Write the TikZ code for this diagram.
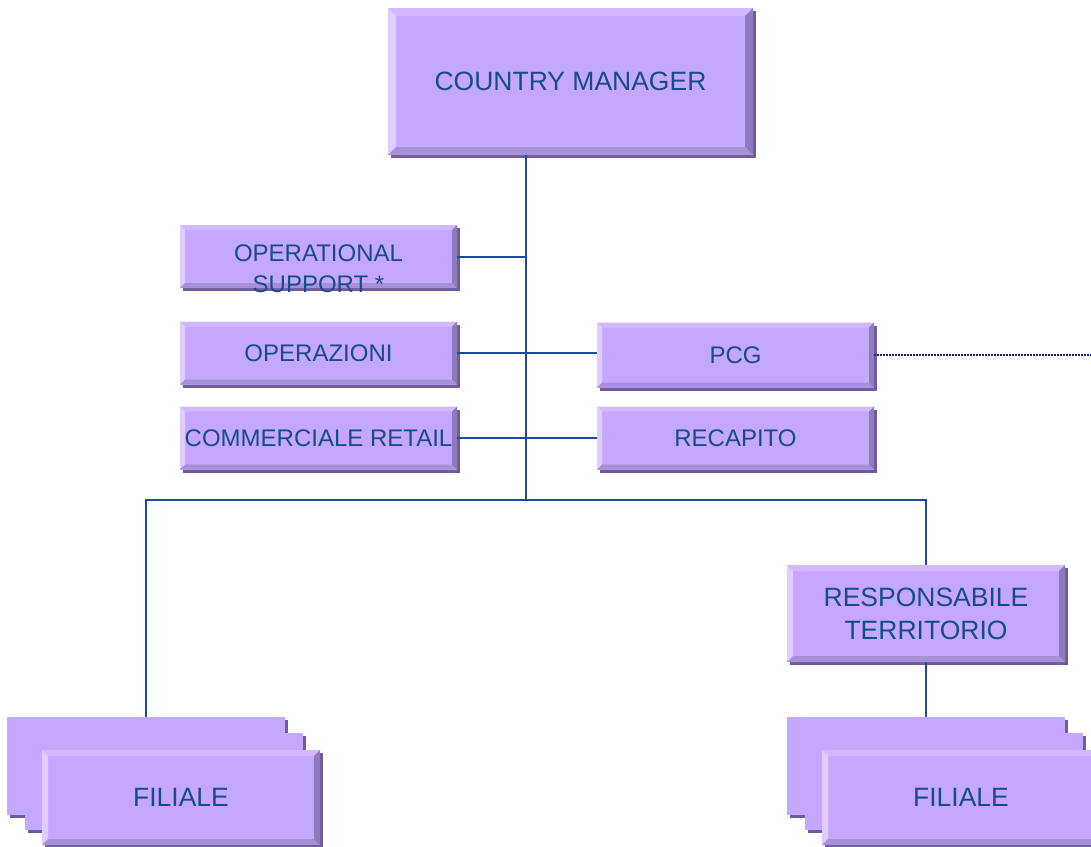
\documentclass[tikz,border=0pt]{standalone}
\usepackage{fontspec}
\setmainfont{Liberation Sans}
\usetikzlibrary{shadows}

\definecolor{face}{HTML}{C4A8FF}
\definecolor{bevtop}{HTML}{D4B8FF}
\definecolor{bevleft}{HTML}{E2CCFF}
\definecolor{bevbot}{HTML}{A890D8}
\definecolor{bevright}{HTML}{8C7CB8}
\definecolor{shadowc}{HTML}{705C9C}
\definecolor{textc}{HTML}{1B4A8C}
\definecolor{linec}{HTML}{1F4A9A}
\definecolor{dotc}{HTML}{1A1A8A}

\newcommand{\bigtxt}{\fontsize{26.5}{33}\selectfont}
\newcommand{\smalltxt}{\fontsize{24}{31}\selectfont}
\newcommand{\bevelpic}{%
  \coordinate (bsw) at (path picture bounding box.south west);
  \coordinate (bne) at (path picture bounding box.north east);
  \coordinate (bnw) at (path picture bounding box.north west);
  \coordinate (bse) at (path picture bounding box.south east);
  \fill[bevtop] (bnw) -- (bne) -- ([shift={(-\bevw,-\bevw)}]bne) -- ([shift={(\bevw,-\bevw)}]bnw) -- cycle;
  \fill[bevleft] (bnw) -- (bsw) -- ([shift={(\bevw,\bevw)}]bsw) -- ([shift={(\bevw,-\bevw)}]bnw) -- cycle;
  \fill[bevbot] (bsw) -- (bse) -- ([shift={(-\bevw,\bevw)}]bse) -- ([shift={(\bevw,\bevw)}]bsw) -- cycle;
  \fill[bevright] (bse) -- (bne) -- ([shift={(-\bevw,-\bevw)}]bne) -- ([shift={(-\bevw,\bevw)}]bse) -- cycle;
}

\begin{document}
\begin{tikzpicture}[x=1pt,y=-1pt,
    bevw/.store in=\bevw, bevw=5pt,
    flatbox/.style={rectangle, inner sep=0pt, fill=face,
      drop shadow={shadow xshift=3pt, shadow yshift=-3pt, fill=shadowc, opacity=1}},
    btn/.style={flatbox, path picture={\bevelpic}, text=textc, align=center, font=\smalltxt},
    lbl/.style={text=textc, align=center, font=\smalltxt},
    conn/.style={draw=linec, line width=2pt},
    dots/.style={draw=dotc, line width=1.5pt, dash pattern=on 1.5pt off 1.5pt}]
  \useasboundingbox (0,0) rectangle (1091,846);
  \clip (0,0) rectangle (1091,846);

  % top
  \node[btn, bevw=8pt, font=\bigtxt, minimum width=365, minimum height=147] (cm) at (570.5,81.5) {COUNTRY MANAGER};
  \coordinate (trunk) at (526,500);
  \coordinate (rim) at (1091,0);

  % staff boxes
  \node[btn, minimum width=277, minimum height=63] (opsup) at (318.5,256.5) {};
  \node[lbl] (opsuptxt) at ([yshift=-12pt]opsup.center) {OPERATIONAL\\SUPPORT *};
  \node[btn, minimum width=277, minimum height=63] (ops) at (318.5,353) {OPERAZIONI};
  \node[btn, minimum width=277, minimum height=63] (comm) at (318.5,438) {COMMERCIALE RETAIL};
  \node[btn, minimum width=277, minimum height=65] (pcg) at (735.5,355) {PCG};
  \node[btn, minimum width=277, minimum height=63] (reca) at (735.5,438) {RECAPITO};

  % lower level
  \node[btn, bevw=6pt, font=\bigtxt, minimum width=278, minimum height=97] (resp) at (926,613.5) {RESPONSABILE\\TERRITORIO};
  \node[flatbox, minimum width=278, minimum height=98] (back1) at (146,766) {};
  \node[flatbox, minimum width=278, minimum height=97] (back2) at (163.5,781.5) {};
  \node[btn, bevw=6pt, font=\bigtxt, minimum width=278, minimum height=95] (fil1) at (181,797.5) {FILIALE};
  \node[flatbox, minimum width=278, minimum height=98] (back3) at (926,766) {};
  \node[flatbox, minimum width=278, minimum height=97] (back4) at (943.5,781.5) {};
  \node[btn, bevw=6pt, font=\bigtxt, minimum width=278, minimum height=95] (fil2) at (961,797.5) {FILIALE};

  % connectors
  \draw[conn] (cm.south -| trunk) -- (trunk);
  \draw[conn] (opsup.east) -- (opsup.east -| trunk);
  \draw[conn] (ops.east) -- (ops.east -| pcg.west);
  \draw[conn] (comm.east) -- (comm.east -| reca.west);
  \draw[conn] (back1.north) |- (trunk) -| (resp.north);
  \draw[conn] (resp.south) -- (back3.north);
  \draw[dots] (pcg.east) -- (pcg.east -| rim);
\end{tikzpicture}
\end{document}
